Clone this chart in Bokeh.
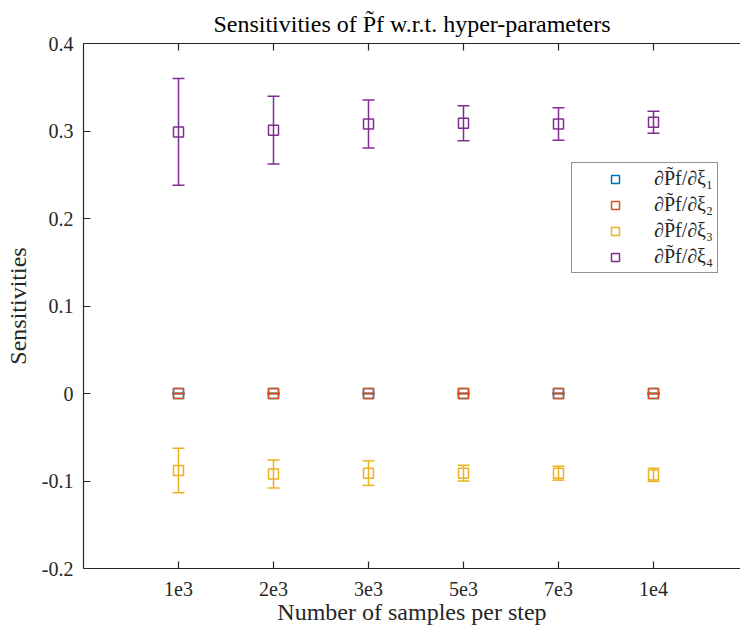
from bokeh.plotting import figure
from bokeh.models import (Range1d, FixedTicker, LinearAxis, Whisker, ColumnDataSource,
                          Legend, LegendItem, TeeHead)
from bokeh.embed import file_html
from bokeh.resources import INLINE

# ---- data ----
x_pos = [1, 2, 3, 4, 5, 6]
x_labels = ["1e3", "2e3", "3e3", "5e3", "7e3", "1e4"]
y_ticks = [-0.2, -0.1, 0.0, 0.1, 0.2, 0.3, 0.4]
y_tick_labels = ["-0.2", "-0.1", "0", "0.1", "0.2", "0.3", "0.4"]

series_names = ["∂P̃f/∂ξ₁", "∂P̃f/∂ξ₂", "∂P̃f/∂ξ₃", "∂P̃f/∂ξ₄"]
series_colors = ["#0072BD", "#D95319", "#EDB120", "#7E2F8E"]

xi1_mean = [0.0, 0.0, 0.0, 0.0, 0.0, 0.0]
xi1_err = [0.0, 0.0, 0.0, 0.0, 0.0, 0.0]
xi2_mean = [0.0, 0.0, 0.0, 0.0, 0.0, 0.0]
xi2_err = [0.0, 0.0, 0.0, 0.0, 0.0, 0.0]
xi3_mean = [-0.088, -0.092, -0.091, -0.091, -0.091, -0.093]
xi3_err = [0.0255, 0.016, 0.014, 0.009, 0.008, 0.0075]
xi4_mean = [0.299, 0.301, 0.308, 0.309, 0.308, 0.310]
xi4_err = [0.061, 0.0387, 0.0275, 0.020, 0.0185, 0.0127]

means = [xi1_mean, xi2_mean, xi3_mean, xi4_mean]
errs = [xi1_err, xi2_err, xi3_err, xi4_err]

FONT = "Liberation Serif"
AX = "#262626"
W, H = 740, 631

p = figure(width=W, height=H, output_backend="svg", toolbar_location=None,
           x_range=Range1d(0, (W - 83) / 95.0), y_range=Range1d(-0.2, 0.4),
           min_border_left=83, min_border_right=0, min_border_top=43,
           min_border_bottom=63)
p.title.text = "Sensitivities of P̃f w.r.t. hyper-parameters"
p.title.text_font = FONT
p.title.text_font_size = "24px"
p.title.text_font_style = "normal"
p.title.text_color = "#000000"
p.title.align = "center"
p.title.standoff = 13
p.outline_line_color = None
p.grid.visible = False

xa = p.xaxis[0]
xa.ticker = FixedTicker(ticks=x_pos)
xa.major_label_overrides = {k: v for k, v in zip(x_pos, x_labels)}
xa.axis_label = "Number of samples per step"

ya = p.yaxis[0]
ya.ticker = FixedTicker(ticks=y_ticks)
ya.major_label_overrides = {k: v for k, v in zip(y_ticks, y_tick_labels)}
ya.axis_label = "Sensitivities"

top = LinearAxis(ticker=FixedTicker(ticks=x_pos),
                 major_label_overrides={k: "" for k in x_pos})
p.add_layout(top, "above")

for ax in [xa, ya, top]:
    ax.axis_line_color = AX
    ax.axis_line_width = 1.2
    ax.major_tick_line_color = AX
    ax.major_tick_line_width = 1.2
    ax.major_tick_in = 7
    ax.major_tick_out = 0
    ax.minor_tick_line_color = None
    ax.major_label_text_font = FONT
    ax.major_label_text_font_size = "20px"
    ax.major_label_text_color = AX
    ax.axis_label_text_font = FONT
    ax.axis_label_text_font_size = "24px"
    ax.axis_label_text_font_style = "normal"
    ax.axis_label_text_color = AX

xa.major_label_standoff = 13
xa.axis_label_standoff = 0
ya.major_label_standoff = 10
ya.axis_label_standoff = 8
top.major_label_standoff = 0
top.major_label_text_font_size = "1px"

items = []
for name, color, m, e in zip(series_names, series_colors, means, errs):
    src = ColumnDataSource(data=dict(
        x=x_pos, y=m,
        upper=[a + b for a, b in zip(m, e)],
        lower=[a - b for a, b in zip(m, e)],
    ))
    w = Whisker(base="x", upper="upper", lower="lower", source=src,
                dimension="height", line_color=color, line_width=1.5,
                upper_head=TeeHead(size=12, line_color=color, line_width=1.5),
                lower_head=TeeHead(size=12, line_color=color, line_width=1.5))
    p.add_layout(w)
    r = p.scatter("x", "y", source=src, marker="square", size=10,
                  fill_color=None, line_color=color, line_width=1.5)
    items.append(LegendItem(label=name, renderers=[r]))

legend = Legend(items=items, location=(488, 295))
legend.border_line_color = AX
legend.border_line_width = 1.2
legend.background_fill_color = "white"
legend.background_fill_alpha = 1.0
legend.label_text_font = FONT
legend.label_text_font_size = "20px"
legend.label_text_color = AX
legend.padding = 4
legend.spacing = 3
legend.margin = 0
legend.glyph_width = 78
legend.glyph_height = 20
legend.label_height = 20
legend.label_standoff = 0
p.add_layout(legend, "center")

open("out.html", "w").write(file_html(p, INLINE))
